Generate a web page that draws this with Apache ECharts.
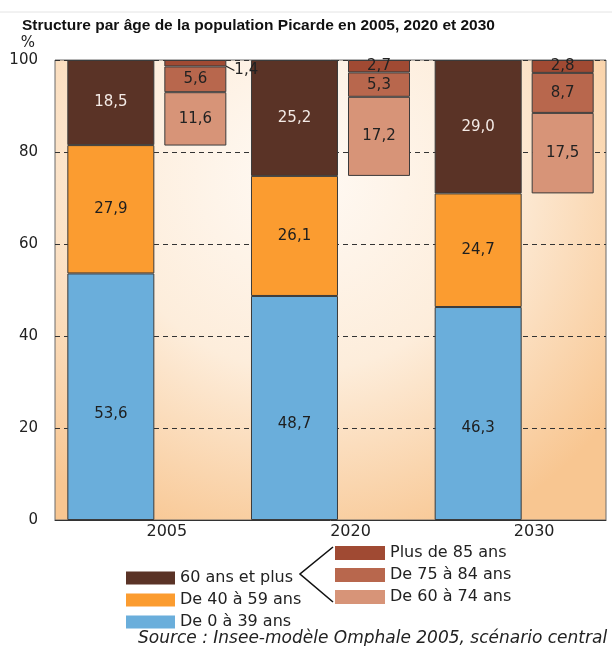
<!DOCTYPE html>
<html>
<head>
<meta charset="utf-8">
<script src="https://cdn.jsdelivr.net/npm/echarts@6/dist/echarts.min.js"></script>
<style>
  html, body { margin: 0; padding: 0; background: #fff; }
  #chart { width: 612px; height: 646px; }
</style>
</head>
<body>
<div id="chart"></div>
<script>
// Années représentées
const years = ['2005', '2020', '2030'];

// Barre principale : structure par grands groupes d'âge (%)
const age0to39 = [53.6, 48.7, 46.3];
const age40to59 = [27.9, 26.1, 24.7];
const age60plus = [18.5, 25.2, 29.0];

// Barre de détail : décomposition des 60 ans et plus (%)
const age60to74 = [11.6, 17.2, 17.5];
const age75to84 = [5.6, 5.3, 8.7];
const age85plus = [1.4, 2.7, 2.8];

// Graduations de l'axe des ordonnées
const yTicks = [0, 20, 40, 60, 80, 100];

// La barre de détail est posée en haut de l'échelle : socle invisible sous elle
const detailBase = years.map((_, i) =>
  +(100 - age60to74[i] - age75to84[i] - age85plus[i]).toFixed(1));

const FONT = 'DejaVu Sans';
const fmt = p => Number(p.value).toFixed(1).replace('.', ',');

const MAIN_W = 87, DETAIL_W = 62;
const border = { borderColor: '#3b3b3b', borderWidth: 1 };

function mainSeries(name, data, color, labelColor, extraLabel) {
  return {
    name, type: 'bar', stack: 'main', data,
    barWidth: MAIN_W, barGap: '11.5%',
    itemStyle: Object.assign({ color }, border),
    label: Object.assign({
      show: true, position: 'inside', formatter: fmt,
      fontFamily: FONT, fontSize: 15, color: labelColor
    }, extraLabel || {}),
    emphasis: { disabled: true }
  };
}

function detailSeries(name, data, color, extra) {
  return Object.assign({
    name, type: 'bar', stack: 'detail', data,
    barWidth: DETAIL_W,
    itemStyle: Object.assign({ color }, border),
    label: {
      show: true, position: 'inside', formatter: fmt,
      fontFamily: FONT, fontSize: 15, color: '#222'
    },
    emphasis: { disabled: true }
  }, extra || {});
}

const chart = echarts.init(document.getElementById('chart'), null, { renderer: 'canvas' });

const legendText = { fontFamily: FONT, fontSize: 16, lineHeight: 16, color: '#222' };

chart.setOption({
  animation: false,
  backgroundColor: '#ffffff',
  title: [
    {
      text: 'Structure par âge de la population Picarde en 2005, 2020 et 2030',
      left: 17, top: 13,
      textStyle: { fontFamily: 'Liberation Sans', fontWeight: 'bold', fontSize: 15.5, color: '#111' }
    },
    {
      text: 'Source : Insee-modèle Omphale 2005, scénario central',
      left: 133, top: 625,
      textStyle: { fontFamily: FONT, fontStyle: 'italic', fontWeight: 'normal', fontSize: 17, color: '#222' }
    }
  ],
  grid: {
    left: 55, right: 6, top: 60, bottom: 126,
    show: true, borderColor: '#6a6a6a', borderWidth: 1,
    backgroundColor: {
      type: 'radial', x: 0.45, y: 0.25, r: 0.85,
      colorStops: [
        { offset: 0, color: '#fffaf5' },
        { offset: 0.5, color: '#fdeddb' },
        { offset: 1, color: '#f8c691' }
      ]
    }
  },
  legend: [
    {
      orient: 'vertical', left: 121, top: 565,
      icon: 'rect', itemWidth: 49, itemHeight: 13, itemGap: 6,
      data: ['60 ans et plus', 'De 40 à 59 ans', 'De 0 à 39 ans'],
      textStyle: legendText,
      itemStyle: { borderWidth: 0 },
      selectedMode: false
    },
    {
      orient: 'vertical', left: 330, top: 540,
      icon: 'rect', itemWidth: 50, itemHeight: 14, itemGap: 6,
      data: ['Plus de 85 ans', 'De 75 à 84 ans', 'De 60 à 74 ans'],
      textStyle: legendText,
      itemStyle: { borderWidth: 0 },
      selectedMode: false
    }
  ],
  xAxis: {
    type: 'category', data: years,
    axisLine: { lineStyle: { color: '#333', width: 1 } },
    axisTick: { show: false },
    axisLabel: { margin: 4, fontFamily: FONT, fontSize: 16, color: '#222', padding: [0, 0, 0, 40] }
  },
  yAxis: {
    type: 'value', min: yTicks[0], max: yTicks[yTicks.length - 1], interval: 20,
    name: '%', nameLocation: 'end', nameGap: 9,
    nameTextStyle: { fontFamily: FONT, fontSize: 15, color: '#222', align: 'right', padding: [0, 20, 0, 0] },
    axisLine: { show: false },
    axisTick: { show: false },
    axisLabel: { margin: 17, fontFamily: FONT, fontSize: 15, color: '#222' },
    splitLine: { show: true, lineStyle: { color: '#333', width: 1, type: [5, 4] } }
  },
  series: [
    mainSeries('De 0 à 39 ans', age0to39, '#6aaedb', '#1e1e1e',
      { position: ['50%', '57%'], align: 'center', verticalAlign: 'middle' }),
    mainSeries('De 40 à 59 ans', age40to59, '#fb9c30', '#1e1e1e'),
    mainSeries('60 ans et plus', age60plus, '#5a3326', '#f4ebe6'),
    {
      name: 'socle', type: 'bar', stack: 'detail', data: detailBase,
      barWidth: DETAIL_W, silent: true,
      itemStyle: { color: 'rgba(0,0,0,0)', borderWidth: 0 },
      label: { show: false },
      emphasis: { disabled: true }
    },
    detailSeries('De 60 à 74 ans', age60to74, '#d79478'),
    detailSeries('De 75 à 84 ans', age75to84, '#b8674d'),
    detailSeries('Plus de 85 ans', age85plus, '#a04a33', {
      // la valeur trop fine pour tenir dans sa case est sortie avec un trait de rappel
      labelLayout: function (p) {
        if (p.rect.height < 8) {
          return { x: p.rect.x + p.rect.width + 8, y: p.rect.y + p.rect.height + 4, align: 'left', verticalAlign: 'middle' };
        }
        return {};
      },
      labelLine: { show: true, lineStyle: { color: '#222', width: 1.2 } }
    })
  ],
  graphic: [
    {
      // filet de séparation en haut de page
      type: 'line', silent: true,
      shape: { x1: 0, y1: 12, x2: 612, y2: 12 },
      style: { stroke: '#e4e4e4', lineWidth: 1 }
    },
    {
      // accolade reliant « 60 ans et plus » à sa décomposition
      type: 'polyline', silent: true,
      shape: { points: [[333, 547], [300, 574], [333, 602]] },
      style: { stroke: '#111', lineWidth: 1.6, fill: null }
    }
  ]
});
</script>
</body>
</html>
